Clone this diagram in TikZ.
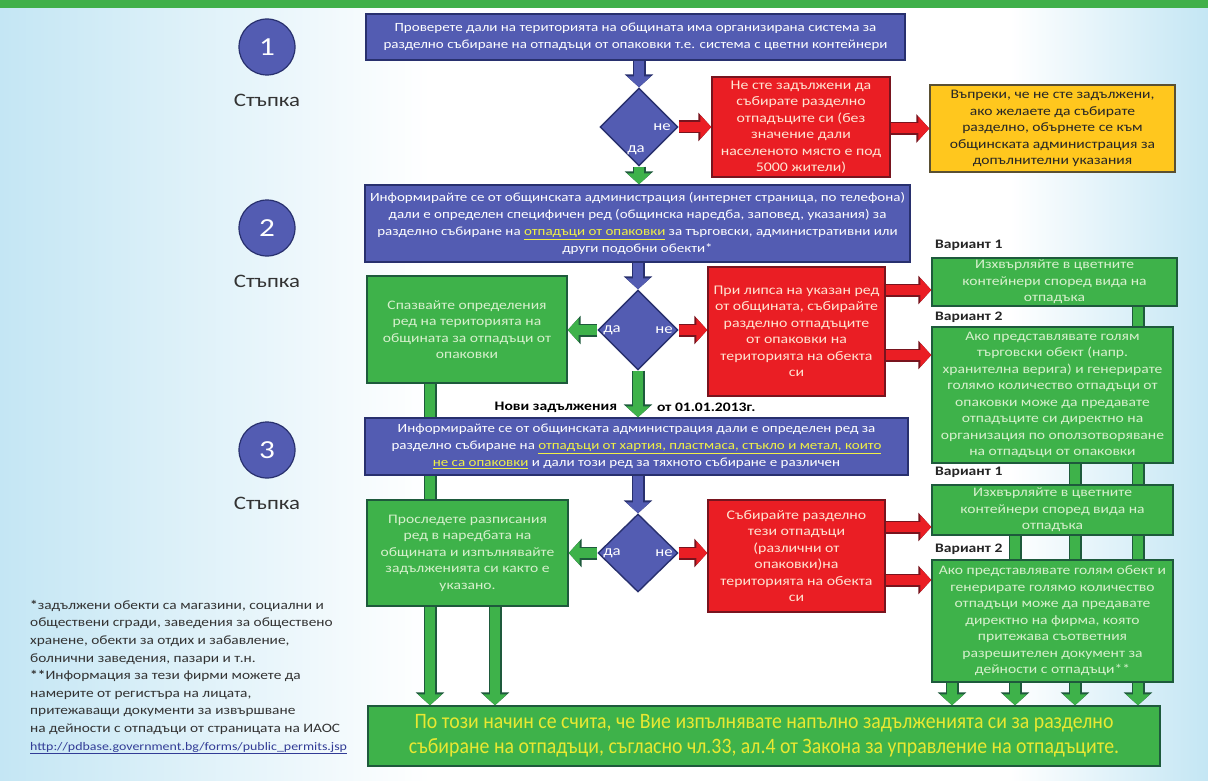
\documentclass[tikz,border=0pt]{standalone}
\usepackage{fontspec}
\setmainfont{Carlito}[FakeStretch=1.2]
\newfontfamily\narrowfont{Carlito}[FakeStretch=0.9]
\usepackage{tikz}
\usetikzlibrary{arrows.meta, shapes.geometric, backgrounds}

\definecolor{boxblue}{RGB}{83,92,178}
\definecolor{blueline}{RGB}{40,48,110}
\definecolor{boxgreen}{RGB}{62,178,74}
\definecolor{greenline}{RGB}{30,90,60}
\definecolor{boxred}{RGB}{234,30,36}
\definecolor{redline}{RGB}{120,20,30}
\definecolor{boxyellow}{RGB}{255,199,30}
\definecolor{yellowline}{RGB}{90,80,50}
\definecolor{sky}{RGB}{196,230,244}
\definecolor{topgreen}{RGB}{64,176,74}
\definecolor{gtext}{RGB}{215,240,205}
\definecolor{rtext}{RGB}{255,228,210}
\definecolor{finaltext}{RGB}{232,232,50}
\definecolor{ultext}{RGB}{240,240,70}
\definecolor{linkblue}{RGB}{50,60,150}

\begin{document}
\begin{tikzpicture}[
    x = 1pt, y = -1pt, % one unit per pixel, y grows downwards
    node distance = 53pt, % circle to its label
    every node/.style = {font=\fontsize{13}{16.5}\selectfont}
]

\tikzstyle{box}=[rectangle, line width=1.4pt, align=center, inner sep=1pt]
\tikzstyle{bluebox}=[box, draw=blueline, fill=boxblue, text=white, font=\fontsize{12.5}{17}\selectfont]
\tikzstyle{greenbox}=[box, draw=greenline, fill=boxgreen, text=gtext]
\tikzstyle{redbox}=[box, draw=redline, fill=boxred, text=rtext, font=\fontsize{13.2}{16.5}\selectfont]
\tikzstyle{yellowbox}=[box, draw=yellowline, fill=boxyellow, text=black!85]
\tikzstyle{decision}=[diamond, draw=blueline, fill=boxblue, line width=1.4pt, inner sep=0pt, minimum width=78pt, minimum height=78pt]
\tikzstyle{circ}=[circle, draw=blueline, fill=boxblue, line width=1.2pt, minimum size=56pt, text=white, font=\fontsize{26}{26}\selectfont]
\tikzstyle{steplabel}=[text=black!80, font=\fontsize{19}{19}\selectfont]
\tikzstyle{answer}=[text=white, font=\fontsize{14}{14}\selectfont, inner sep=0pt]
\tikzstyle{variant}=[anchor=west, inner sep=0pt, text=black!85, font=\bfseries\fontsize{13}{13}\selectfont]
\tikzstyle{deadline}=[text=black, inner sep=0pt, font=\bfseries\fontsize{13}{13}\selectfont]
\tikzstyle{barrow}=[draw=boxblue, line width=10pt, -{Triangle[length=11pt,width=23pt]},
    preaction={draw=blueline, line width=13pt, -{Triangle[length=13pt,width=28pt]}}]
\tikzstyle{garrow}=[draw=boxgreen, line width=10pt, -{Triangle[length=11pt,width=23pt]},
    preaction={draw=greenline, line width=13pt, -{Triangle[length=13pt,width=28pt]}}]
\tikzstyle{rarrow}=[draw=boxred, line width=10pt, -{Triangle[length=11pt,width=23pt]},
    preaction={draw=redline, line width=13pt, -{Triangle[length=13pt,width=28pt]}}]
\newcommand{\ul}[1]{\textcolor{ultext}{\underline{#1}}}

\useasboundingbox (0,0) rectangle (1208,781);

% page background
\begin{scope}[on background layer]
\fill[white] (0,0) rectangle (1208,781);
\shade[left color=sky, right color=white] (0,0) rectangle (430,781);
\shade[left color=white, right color=sky] (1010,0) rectangle (1208,781);
\fill[topgreen] (0,0) rectangle (1208,8);
\end{scope}

% steps
\node[circ] (Step1) at (267,47) {1};
\node[steplabel] (Step1Label) [below of = Step1] {Стъпка};
\node[circ] (Step2) at (267,228) {2};
\node[steplabel] (Step2Label) [below of = Step2] {Стъпка};
\node[circ] (Step3) at (267,450) {3};
\node[steplabel] (Step3Label) [below of = Step3] {Стъпка};

% step 1
\node[bluebox, minimum width=539pt, minimum height=46pt] (CheckSystem) at (635.5,37)
    {Проверете дали на територията на общината има организирана система за\\
     разделно събиране на отпадъци от опаковки т.е. система с цветни контейнери};
\node[decision] (Decide1) at (639,127) {};
\node[redbox, minimum width=178pt, minimum height=100pt] (NotObliged) at (801,127)
    {Не сте задължени да\\ събирате разделно\\ отпадъците си (без\\ значение дали\\
     населеното място е под\\ 5000 жители)};
\node[yellowbox, minimum width=245pt, minimum height=87pt] (Voluntary) at (1052.5,128.5)
    {Въпреки, че не сте задължени,\\ ако желаете да събирате\\ разделно, обърнете се към\\
     общинската администрация за\\ допълнителни указания};

% step 2
\node[bluebox, minimum width=545pt, minimum height=77pt] (AskPackaging) at (637.5,223.5)
    {Информирайте се от общинската администрация (интернет страница, по телефона)\\
     дали е определен специфичен ред (общинска наредба, заповед, указания) за\\
     разделно събиране на \ul{отпадъци от опаковки} за търговски, административни или\\
     други подобни обекти*};
\node[decision, minimum width=80pt, minimum height=80pt] (Decide2) at (638,330) {};
\node[greenbox, minimum width=200pt, minimum height=107pt] (FollowOrder) at (467,329.5)
    {Спазвайте определения\\ ред на територията на\\ общината за отпадъци от\\ опаковки};
\node[redbox, minimum width=177pt, minimum height=129pt] (CollectPackaging) at (796.5,331.5)
    {При липса на указан ред\\ от общината, събирайте\\ разделно отпадъците\\ от опаковки на\\
     територията на обекта\\ си};
\node[variant] (VariantA1) at (935,245) {Вариант 1};
\node[greenbox, minimum width=245pt, minimum height=48pt] (OptionA1) at (1054.5,282)
    {Изхвърляйте в цветните\\ контейнери според вида на\\ отпадъка};
\node[variant] (VariantA2) at (935,317) {Вариант 2};
\node[greenbox, minimum width=241pt, minimum height=136pt] (OptionA2) at (1052.5,395)
    {Ако представлявате голям\\ търговски обект (напр.\\ хранителна верига) и генерирате\\
     голямо количество отпадъци от\\ опаковки може да предавате\\ отпадъците си директно на\\
     организация по оползотворяване\\ на отпадъци от опаковки};

% step 3
\node[bluebox, minimum width=543pt, minimum height=57pt] (AskOther) at (636.5,446.5)
    {Информирайте се от общинската администрация дали е определен ред за\\
     разделно събиране на \ul{отпадъци от хартия, пластмаса, стъкло и метал, които}\\
     \ul{не са опаковки} и дали този ред за тяхното събиране е различен};
\node[decision, minimum width=80pt, minimum height=78pt] (Decide3) at (638,553) {};
\node[greenbox, minimum width=201pt, minimum height=106pt] (FollowOrdinance) at (467.5,553)
    {Проследете разписания\\ ред в наредбата на\\ общината и изпълнявайте\\
     задълженията си както е\\ указано.};
\node[redbox, minimum width=177pt, minimum height=112pt] (CollectOther) at (796.5,556)
    {Събирайте разделно\\ тези отпадъци\\ (различни от\\ опаковки)на\\
     територията на обекта\\ си};
\node[variant] (VariantB1) at (935,472) {Вариант 1};
\node[greenbox, minimum width=241pt, minimum height=50pt] (OptionB1) at (1052.5,510)
    {Изхвърляйте в цветните\\ контейнери според вида на\\ отпадъка};
\node[variant] (VariantB2) at (935,549) {Вариант 2};
\node[greenbox, minimum width=241pt, minimum height=122pt] (OptionB2) at (1052.5,621)
    {Ако представлявате голям обект и\\ генерирате голямо количество\\
     отпадъци може да предавате\\ директно на фирма, която\\ притежава съответния\\
     разрешителен документ за\\ дейности с отпадъци**};

% result
\node[greenbox, minimum width=792pt, minimum height=60pt, text=finaltext,
    font=\narrowfont\fontsize{22}{25}\selectfont] (Fulfilled) at (764,736)
    {По този начин се счита, че Вие изпълнявате напълно задълженията си за разделно\\
     събиране на отпадъци, съгласно чл.33, ал.4 от Закона за управление на отпадъците.};

% footnotes
\node[anchor=north west, align=left, inner sep=0pt, text=black!80,
    font=\fontsize{12.8}{17.6}\selectfont] (Notes) at (30,600)
    {\textbf{*}задължени обекти са магазини, социални и\\
     обществени сгради, заведения за обществено\\
     хранене, обекти за отдих и забавление,\\
     болнични заведения, пазари и т.н.\\
     \textbf{**}Информация за тези фирми можете да\\
     намерите от регистъра на лицата,\\
     притежаващи документи за извършване\\
     на дейности с отпадъци от страницата на ИАОС\\
     {\fontsize{11.6}{17.6}\selectfont\textcolor{linkblue}{\underline{http://pdbase.government.bg/forms/public\_permits.jsp}}}};

% yes / no
\node[answer] (No1) at ([xshift=23pt]Decide1.center) {не};
\node[answer] (Yes1) at ([xshift=-3pt, yshift=-23pt]Decide1.center) {да};
\node[answer] (Yes2) at ([xshift=-26pt]Decide2.center) {да};
\node[answer] (No2) at ([xshift=26pt]Decide2.center) {не};
\node[answer] (Yes3) at ([xshift=-26pt]Decide3.center) {да};
\node[answer] (No3) at ([xshift=26pt]Decide3.center) {не};

% arrow entry points on the options
\coordinate (InA1) at ([yshift=-8pt]OptionA1.west);
\coordinate (InA2) at ([yshift=40pt]OptionA2.west);
\coordinate (InB1) at ([yshift=-17pt]OptionB1.west);
\coordinate (InB2) at ([yshift=41pt]OptionB2.west);

\draw[barrow] (CheckSystem.south -| Decide1) -- (Decide1.north);
\draw[rarrow] (Decide1.east) -- (NotObliged.west |- Decide1);
\draw[rarrow] (NotObliged.east |- Voluntary) -- (Voluntary.west);
\draw[garrow] (Decide1.south) -- (AskPackaging.north -| Decide1);

\draw[barrow] (AskPackaging.south -| Decide2) -- (Decide2.north);
\draw[garrow] (Decide2.west) -- (FollowOrder.east |- Decide2);
\draw[rarrow] (Decide2.east) -- (CollectPackaging.west |- Decide2);
\draw[rarrow] (CollectPackaging.east |- InA1) -- (InA1);
\draw[rarrow] (CollectPackaging.east |- InA2) -- (InA2);
\draw[garrow] (Decide2.south) -- (AskOther.north -| Decide2)
    node[pos=0.78, deadline, left=16pt] {Нови задължения}
    node[pos=0.78, deadline, right=14pt] {от 01.01.2013г.};

\draw[barrow] (AskOther.south -| Decide3) -- (Decide3.north);
\draw[garrow] (Decide3.west) -- (FollowOrdinance.east |- Decide3);
\draw[rarrow] (Decide3.east) -- (CollectOther.west |- Decide3);
\draw[rarrow] (CollectOther.east |- InB1) -- (InB1);
\draw[rarrow] (CollectOther.east |- InB2) -- (InB2);

% long green lines run behind the boxes down to the result
\begin{scope}[on background layer]
\coordinate (OutFollow) at ([xshift=-37pt]FollowOrder.south);
\coordinate (OutOrdinance) at ([xshift=27.5pt]FollowOrdinance.south);
\coordinate (OutA1) at ([xshift=83.5pt]OptionA1.south);
\coordinate (OutA2) at ([xshift=22.5pt]OptionA2.south);
\coordinate (OutB1) at ([xshift=-37.5pt]OptionB1.south);
\coordinate (OutB2) at ([xshift=-100.5pt]OptionB2.south);
\draw[garrow] (OutFollow) -- (OutFollow |- Fulfilled.north);
\draw[garrow] (OutOrdinance) -- (OutOrdinance |- Fulfilled.north);
\draw[garrow] (OutA1) -- (OutA1 |- Fulfilled.north);
\draw[garrow] (OutA2) -- (OutA2 |- Fulfilled.north);
\draw[garrow] (OutB1) -- (OutB1 |- Fulfilled.north);
\draw[garrow] (OutB2) -- (OutB2 |- Fulfilled.north);
\end{scope}

\end{tikzpicture}
\end{document}
